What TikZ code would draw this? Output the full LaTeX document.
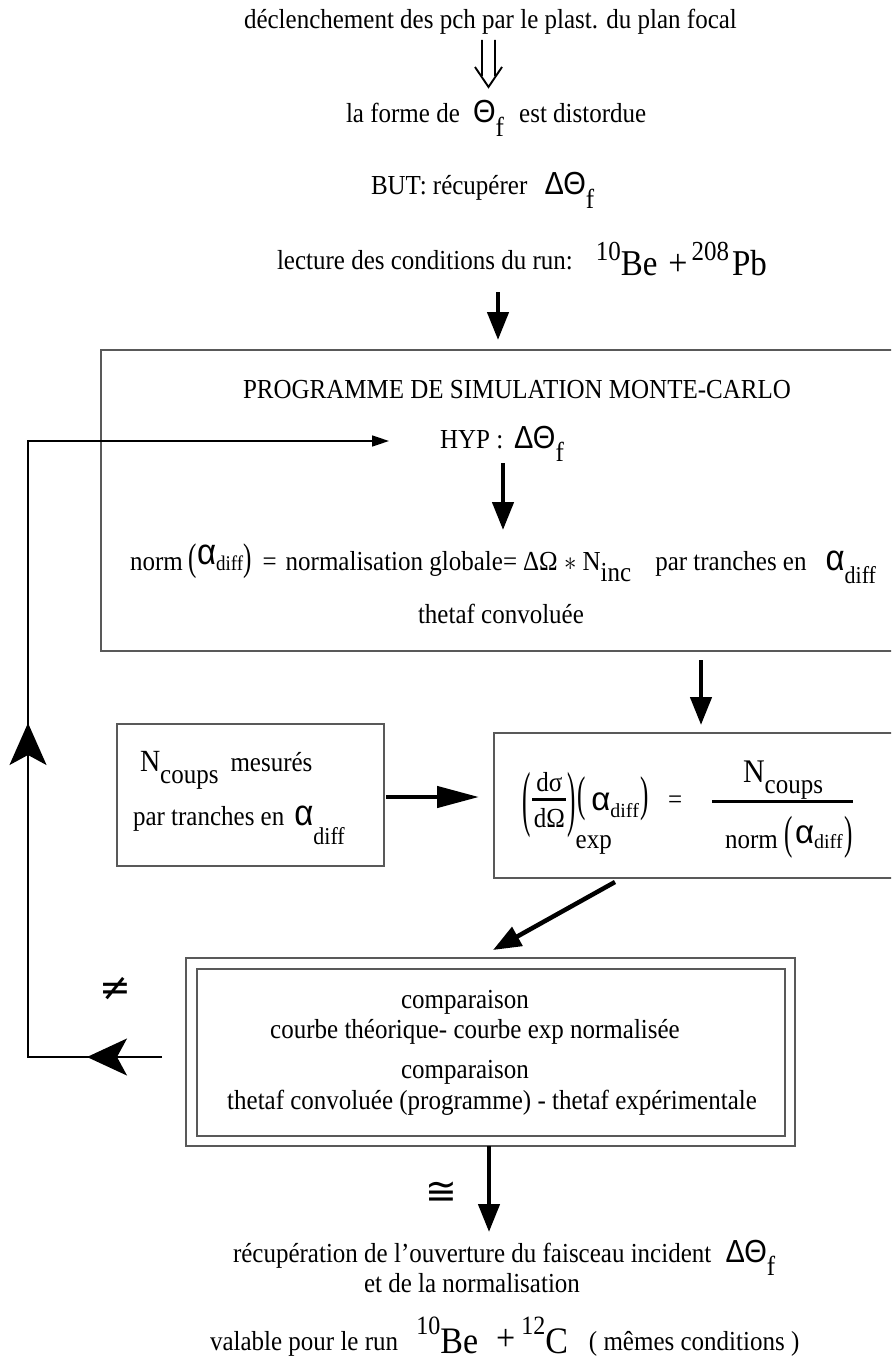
\documentclass[tikz,border=0pt]{standalone}
\usepackage{fontspec}
\setmainfont{Liberation Serif}
\newfontfamily\gsans{Liberation Sans}
\newfontfamily\dvs{DejaVu Sans}
\usetikzlibrary{arrows.meta,decorations.markings}
\newcommand\V[1]{\scalebox{1}[1.1]{#1}}
\newcommand\al[1][33]{{\gsans\fontsize{#1}{#1}\selectfont α}}
\newcommand\lo[2][10pt]{\raisebox{-#1}{#2}}
\newcommand\up[2][8pt]{\raisebox{#1}{#2}}
\newcommand\fs[2]{{\fontsize{#1}{#1}\selectfont #2}}
\newcommand\DTh{{\gsans\fontsize{29}{29}\selectfont ΔΘ}}
\newcommand\Thb{{\gsans\fontsize{29}{29}\selectfont Θ}}
\newcommand\tallp[2][2]{\scalebox{1}[#1]{\fs{25}{#2}}}
\newcommand\dsdo{\raisebox{-5pt}{\vbox{\hbox to 34pt{\hss\V{dσ}\hss}\kern 6.5pt\hrule height 2.7pt width 34pt\kern 7pt\hbox to 34pt{\hss\V{dΩ}\hss}}}}
\begin{document}
\begin{tikzpicture}[x=1pt,y=-1pt,
  every node/.style={inner sep=0pt, outer sep=0pt, font=\fontsize{25}{30}\selectfont},
  txt/.style={anchor=base west},
  ctxt/.style={anchor=base},
  boxline/.style={draw=black!65, line width=1.3pt},
  bigarrow/.style={line width=4.5pt, -{Triangle[length=28pt,width=21pt]}},
  fbline/.style={line width=1.6pt}
]
\useasboundingbox (0,0) rectangle (891,1359);
\clip (0,0) rectangle (891,1359);
% boxes
\node[boxline, minimum width=800pt, minimum height=301pt] (big) at (501,500.5) {};
\node[boxline, minimum width=267pt, minimum height=142pt] (lbox) at (250.5,795) {};
\node[boxline, minimum width=407pt, minimum height=145pt] (fbox) at (697.5,805.5) {};
\node[boxline, minimum width=609pt, minimum height=188pt] (cmp) at (490.5,1052) {};
\node[boxline, minimum width=588pt, minimum height=167pt] (cmpin) at (491,1052.5) {};
% top texts
\node[txt] (t1) at (244,29) {\V{déclenchement des pch par le plast. du plan focal}};
\node[txt] (t2) at (346,123) {\V{la forme de \hspace{7pt}\Thb\lo[12pt]{f}\hspace{9pt} est distordue}};
\node[txt] (t3) at (371,195) {\V{BUT: récupérer \hspace{11pt}\DTh\lo[12pt]{f}}};
\node[txt] (t4) at (277,269) {\V{lecture des conditions du run:\hspace{23pt}\lo[6pt]{\up[14pt]{\fs{25}{10}}\fs{33}{Be}\hspace{11pt}\fs{34}{+}\hspace{4pt}\up[14pt]{\fs{25}{208}}\hspace{3pt}\fs{33}{Pb}}}};
% big box texts
\node[txt] (t5) at (243,398) {\V{PROGRAMME DE SIMULATION MONTE-CARLO}};
\node[txt] (hyp) at (440,448) {\V{HYP :\hspace{11pt}\DTh\lo[12pt]{f}}};
\node[txt] (norm) at (130,570) {\V{norm\hspace{6pt}\tallp[1.4]{(}\raisebox{5pt}{\al}\fs{19}{diff}\tallp[1.4]{)}\hspace{11pt}=\hspace{9pt}normalisation globale=\hspace{6pt}ΔΩ $\ast$ N\lo[10pt]{inc}\hspace{24pt}par tranches en\hspace{19pt}\al\lo[12pt]{\fs{22}{diff}}}};
\node[txt] (conv) at (418,623) {\V{thetaf convoluée}};
% left box
\node[txt] (nc) at (140,771) {\V{\fs{28}{N}\lo[11pt]{coups}\hspace{12pt}mesurés}};
\node[txt] (pt) at (133,825) {\V{par tranches en\hspace{10pt}\al\lo[18pt]{\fs{22}{diff}}}};
% formula box
\node[txt] (ffr) at (522,822) {\tallp[2.9]{(}\hspace{2pt}\dsdo\hspace{1pt}\tallp[2.9]{)}\lo[26pt]{\V{exp}}};
\node[txt] (fal) at (577,810) {\tallp[1.95]{(}\hspace{6pt}\al\lo[7pt]{\fs{20}{diff}}\hspace{2pt}\tallp[1.95]{)}};
\node[txt] (feq) at (668,808) {\V{=}};
\draw[line width=3.3pt] (712,801.5) -- (853,801.5);
\node[txt] (fn) at (743,782) {\V{\fs{30}{N}\lo[10pt]{coups}}};
\node[txt] (fd) at (725,848) {\V{norm}\hspace{7pt}\tallp[1.86]{(}\hspace{2pt}\raisebox{5pt}{\al}\fs{20}{diff}\hspace{2pt}\tallp[1.86]{)}};
% comparison texts
\node[ctxt] (c1) at (465,1008) {\V{comparaison}};
\node[ctxt] (c2) at (475,1038) {\V{courbe théorique- courbe exp normalisée}};
\node[ctxt] (c3) at (465,1078) {\V{comparaison}};
\node[ctxt] (c4) at (492,1109) {\V{thetaf convoluée (programme) - thetaf expérimentale}};
% symbols
\node (neq) at (115,989) {\dvs\fontsize{38}{38}\selectfont ≠};
\node (cong) at (441,1193) {\dvs\fontsize{38}{38}\selectfont ≅};
% results
\node[txt] (r1) at (233,1262) {\V{récupération de l’ouverture du faisceau incident \hspace{8pt}\DTh\lo[12pt]{f}}};
\node[txt] (r2) at (364,1292) {\V{et de la normalisation}};
\node[txt] (r3) at (210,1350) {\V{valable pour le run \hspace{12pt}\up[14pt]{\fs{24}{10}}\lo[3pt]{\fs{34}{Be}}\hspace{18pt}\fs{34}{+}\hspace{6pt}\up[14pt]{\fs{24}{12}}\lo[3pt]{\fs{34}{C}}\hspace{21pt}( mêmes conditions )}};
% double arrow
\coordinate (d1) at (482,40); \coordinate (d2) at (495,40);
\coordinate (dt) at (488.5,87);
\draw[line width=1.9pt] (d1) -- (482,76) (d2) -- (495,76) (475,67) -- (dt) -- (502,67);
% arrows
\coordinate (a1s) at (498,292); \coordinate (a1e) at (498,340);
\coordinate (a2s) at (503,463); \coordinate (a2e) at (503,530);
\coordinate (a3s) at (701,660); \coordinate (a3e) at (701,725);
\coordinate (a4s) at (386,797); \coordinate (a4e) at (479,797);
\coordinate (a5s) at (615,882); \coordinate (a5e) at (493,950);
\coordinate (a6s) at (489,1146); \coordinate (a6e) at (489,1232);
\draw[bigarrow] (a1s) -- (a1e);
\draw[bigarrow] (a2s) -- (a2e);
\draw[bigarrow] (a3s) -- (a3e);
\draw[line width=4.5pt, -{Triangle[length=42pt,width=21pt]}] (a4s) -- (a4e);
\draw[bigarrow] (a5s) -- (a5e);
\draw[bigarrow] (a6s) -- (a6e);
% feedback
\coordinate (fb0) at (162,1057);
\coordinate (fb1) at (28,1057);
\coordinate (fb2) at (28,441);
\coordinate (fb3) at (389,441);
\draw[fbline, -{Triangle[length=17pt,width=11pt]},
  postaction={decorate},
  decoration={markings,
    mark=at position 75pt with {\arrow{Stealth[length=40pt,width=37pt,inset=10pt]}},
    mark=at position 468pt with {\arrow{Stealth[length=42pt,width=37pt,inset=10pt]}}}]
  (fb0) -- (fb1) -- (fb2) -- (fb3);
\end{tikzpicture}
\end{document}
